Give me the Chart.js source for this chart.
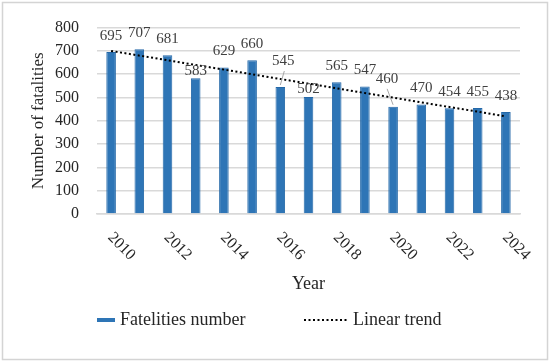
<!DOCTYPE html>
<html>
<head>
<meta charset="utf-8">
<script src="https://cdn.jsdelivr.net/npm/chart.js@4"></script>
<style>
  html, body { margin: 0; padding: 0; background: #fff; }
  #wrap { position: relative; width: 550px; height: 364px; }
</style>
</head>
<body>
<div id="wrap"><canvas id="chart" width="550" height="364"></canvas></div>
<script>
const years = ["2010", "2011", "2012", "2013", "2014", "2015", "2016", "2017",
  "2018", "2019", "2020", "2021", "2022", "2023", "2024"];
const fatalities = [695, 707, 681, 583, 629, 660, 545, 502, 565, 547, 460, 470, 454, 455, 438];
const trendEnds = [700, 419];
const yTicks = [0, 100, 200, 300, 400, 500, 600, 700, 800];

const serif = "'Liberation Serif', 'Times New Roman', serif";
const blue = "#2e75b6";

// label nudges (px) for the crowded ones
const labelShift = { 3: [0, 9], 6: [3, -10], 7: [0, 8], 10: [-6, -12] };
const leaderLines = [6, 10];

const extras = {
  id: "extras",
  beforeDraw(chart) {
    const { ctx } = chart;
    ctx.save();
    ctx.strokeStyle = "#d4d4d4";
    ctx.lineWidth = 1.5;
    ctx.strokeRect(2.5, 2.5, 545, 357);
    ctx.restore();
  },
  afterDraw(chart) {
    const { ctx, scales } = chart;
    const x = scales.x, y = scales.y;
    const bars = chart.getDatasetMeta(0).data;
    ctx.save();

    // value labels
    ctx.font = "15px " + serif;
    ctx.fillStyle = "#404040";
    ctx.textAlign = "center";
    ctx.textBaseline = "middle";
    bars.forEach((bar, i) => {
      const [dx, dy] = labelShift[i] || [0, 0];
      const lx = bar.x + dx;
      const ly = bar.y - 16 + dy;
      ctx.fillText(String(fatalities[i]), lx, ly);
      if (leaderLines.includes(i)) {
        ctx.save();
        ctx.strokeStyle = "#a6a6a6";
        ctx.lineWidth = 1;
        ctx.beginPath();
        ctx.moveTo(lx + (i === 10 ? 0 : 1), ly + 10);
        ctx.lineTo(bar.x, bar.y - 2);
        ctx.stroke();
        ctx.restore();
      }
    });

    // rotated year labels, every second year
    ctx.font = "16px " + serif;
    ctx.fillStyle = "#262626";
    ctx.textAlign = "left";
    ctx.textBaseline = "middle";
    years.forEach((yr, i) => {
      if (i % 2) return;
      const px = x.getPixelForValue(i);
      ctx.save();
      ctx.translate(px - 1, y.bottom + 21);
      ctx.rotate(Math.PI / 4);
      ctx.fillText(yr, 0, 0);
      ctx.restore();
    });

    // legend
    const ly = 320;
    ctx.strokeStyle = blue;
    ctx.lineWidth = 4;
    ctx.beginPath();
    ctx.moveTo(97, ly);
    ctx.lineTo(115, ly);
    ctx.stroke();
    ctx.font = "18px " + serif;
    ctx.fillStyle = "#262626";
    ctx.fillText("Fatelities number", 120, ly);
    ctx.strokeStyle = "#000";
    ctx.lineWidth = 2;
    ctx.setLineDash([2, 2.5]);
    ctx.beginPath();
    ctx.moveTo(304, ly);
    ctx.lineTo(347, ly);
    ctx.stroke();
    ctx.setLineDash([]);
    ctx.fillText("Linear trend", 353, ly);
    ctx.restore();
  }
};

new Chart(document.getElementById("chart"), {
  type: "bar",
  data: {
    labels: years,
    datasets: [
      {
        label: "Fatelities number",
        data: fatalities,
        backgroundColor: blue,
        borderColor: "#2468a8",
        borderWidth: 1,
        barPercentage: 0.34,
        categoryPercentage: 1,
        order: 2,
      },
      {
        type: "line",
        label: "Linear trend",
        data: [
          { x: years[0], y: trendEnds[0] },
          { x: years[years.length - 1], y: trendEnds[1] },
        ],
        borderColor: "#000",
        borderWidth: 2,
        borderDash: [2, 2.5],
        pointRadius: 0,
        fill: false,
        order: 1,
      },
    ],
  },
  options: {
    responsive: false,
    animation: false,
    layout: { padding: { top: 23, left: 20, right: 30, bottom: 60 } },
    plugins: {
      legend: { display: false },
      tooltip: { enabled: false },
    },
    scales: {
      x: {
        grid: { display: false, drawTicks: false },
        border: { color: "#d9d9d9", width: 1.5 },
        ticks: { display: false },
        title: {
          display: true,
          text: "Year",
          color: "#262626",
          font: { family: serif, size: 18 },
          padding: { top: 0, bottom: 9 },
        },
        afterFit(scale) { scale.height = 90; },
      },
      y: {
        min: 0,
        max: 800,
        afterBuildTicks(scale) { scale.ticks = yTicks.map((v) => ({ value: v })); },
        grid: { color: "#d9d9d9", lineWidth: 1.5, drawTicks: false },
        border: { display: false },
        ticks: {
          padding: 18,
          color: "#262626",
          font: { family: serif, size: 16 },
        },
        title: {
          display: true,
          text: "Number of fatalities",
          color: "#262626",
          font: { family: serif, size: 17 },
          padding: { top: 8, bottom: 0 },
        },
        afterFit(scale) { scale.width = 77; },
      },
    },
  },
  plugins: [extras],
});
</script>
</body>
</html>
